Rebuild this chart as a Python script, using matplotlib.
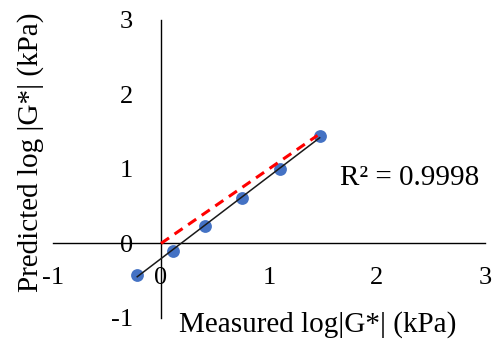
import numpy as np
import matplotlib
matplotlib.use('Agg')
import matplotlib.pyplot as plt

plt.rcParams['font.family'] = ['Liberation Serif', 'DejaVu Serif']

# measured vs predicted log|G*| (kPa)
measured = [-0.22, 0.11, 0.41, 0.75, 1.10, 1.47]
predicted = [-0.42, -0.10, 0.24, 0.61, 1.00, 1.44]
equality_x = [0.0, 1.45]
equality_y = [0.0, 1.45]
ticks = [-1, 0, 1, 2, 3]
r2_text = 'R² = 0.9998'

fig = plt.figure(figsize=(5.01, 3.43), dpi=100)
ax = fig.add_axes([0.1058, 0.073, 0.862, 0.869])

ax.scatter(measured, predicted, s=85, color='#4472C4', zorder=2, linewidths=0)

# linear trendline over the data range
coef = np.polyfit(measured, predicted, 1)
xs = np.array([min(measured), max(measured)])
ax.plot(xs, np.polyval(coef, xs), color='#1a1a1a', lw=1.1, zorder=3)

ax.plot(equality_x, equality_y, color='#FF0000', lw=2.2, dashes=(3.2, 2.2), zorder=4)

ax.set_xlim(-1, 3)
ax.set_ylim(-1, 3)
ax.set_xticks(ticks)
ax.set_yticks(ticks)
ax.set_xticklabels([str(t) for t in ticks])
ax.set_yticklabels([str(t) for t in ticks])

for side in ['top', 'right']:
    ax.spines[side].set_visible(False)
ax.spines['left'].set_position(('data', 0))
ax.spines['bottom'].set_position(('data', 0))
ax.spines['left'].set_linewidth(1.0)
ax.spines['bottom'].set_linewidth(1.0)

ax.tick_params(axis='x', length=0, pad=17, labelsize=19)
ax.tick_params(axis='y', length=0, pad=20, labelsize=19)

ax.set_xlabel('Measured log|G*| (kPa)', fontsize=21, va='center')
ax.xaxis.set_label_coords(0.613, -0.023)
ax.set_ylabel('Predicted log |G*| (kPa)', fontsize=21, va='center')
ax.yaxis.set_label_coords(-0.053, 0.557)

ax.text(1.66, 0.88, r2_text, fontsize=21, ha='left', va='center')

fig.savefig('out.png', dpi=100)
